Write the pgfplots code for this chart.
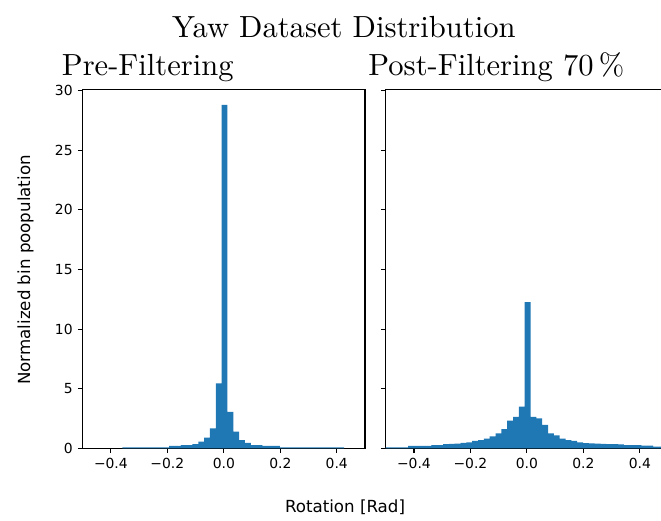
\documentclass[border=0pt]{standalone}
\usepackage{fontspec}
\usepackage{pgfplots}
\pgfplotsset{compat=1.18}
\newfontfamily\dejavu{DejaVu Sans}
\newfontfamily\lmten{lmroman10-regular.otf}
\definecolor{mplblue}{HTML}{1F77B4}

% 1 px of the reference = 0.72pt; origin = lower left corner of the left axis
\pgfplotsset{
  histax/.style={
    scale only axis, width=203.3pt, height=258.5pt,
    xmin=-0.5, xmax=0.5, ymin=0, ymax=30.1,
    axis line style={line width=0.8pt, black},
    tick align=outside, major tick length=3.5pt,
    every tick/.style={black, line width=0.8pt},
    xtick pos=left, ytick pos=left,
    xtick={-0.4,-0.2,0,0.2,0.4},
    xticklabels={{−0.4},{−0.2},{0.0},{0.2},{0.4}},
    ytick={0,5,10,15,20,25,30},
    tick label style={font=\dejavu\fontsize{10}{12}\selectfont, inner sep=0pt, text=black},
    xticklabel style={yshift=-3.5pt},
    yticklabel style={xshift=-3.5pt},
  },
  histbar/.style={ybar interval, fill=mplblue, draw=none},
}

\begin{document}
\begin{tikzpicture}
\path[use as bounding box, clip] (-59.5pt,-51.6pt) rectangle (416.4pt,322.8pt);

\begin{axis}[histax, at={(0pt,0pt)}, anchor=south west,
  yticklabels={0,5,10,15,20,25,30}]
\addplot[histbar] coordinates {
  (-0.3590,0.08) (-0.3384,0.08) (-0.3177,0.08) (-0.2970,0.08)
  (-0.2764,0.08) (-0.2557,0.08) (-0.2351,0.08) (-0.2144,0.08)
  (-0.1937,0.20) (-0.1731,0.20) (-0.1524,0.28) (-0.1318,0.28)
  (-0.1111,0.36) (-0.0904,0.56) (-0.0698,0.89) (-0.0491,1.68)
  (-0.0285,5.45) (-0.0078,28.8) (0.0129,3.05) (0.0335,1.40)
  (0.0542,0.70) (0.0748,0.45) (0.0955,0.28) (0.1162,0.28)
  (0.1368,0.20) (0.1575,0.20) (0.1781,0.20) (0.1988,0.08)
  (0.2195,0.08) (0.2401,0.08) (0.2608,0.08) (0.2814,0.08)
  (0.3021,0.08) (0.3228,0.08) (0.3434,0.08) (0.3641,0.08)
  (0.3847,0.08) (0.4054,0.08) (0.4261,0.08)
};
\end{axis}

\begin{axis}[histax, at={(218.2pt,0pt)}, anchor=south west,
  yticklabels={}]
\addplot[histbar] coordinates {
  (-0.5036,0.08) (-0.4830,0.08) (-0.4623,0.08) (-0.4417,0.08)
  (-0.4210,0.20) (-0.4003,0.20) (-0.3797,0.20) (-0.3590,0.20)
  (-0.3384,0.28) (-0.3177,0.28) (-0.2970,0.36) (-0.2764,0.38)
  (-0.2557,0.40) (-0.2351,0.46) (-0.2144,0.50) (-0.1937,0.62)
  (-0.1731,0.70) (-0.1524,0.81) (-0.1318,1.00) (-0.1111,1.26)
  (-0.0904,1.62) (-0.0698,2.32) (-0.0491,2.63) (-0.0285,3.49)
  (-0.0078,12.25) (0.0129,2.63) (0.0335,2.52) (0.0542,1.96)
  (0.0748,1.26) (0.0955,1.09) (0.1162,0.81) (0.1368,0.70)
  (0.1575,0.62) (0.1781,0.50) (0.1988,0.44) (0.2195,0.42)
  (0.2401,0.40) (0.2608,0.37) (0.2814,0.36) (0.3021,0.35)
  (0.3228,0.33) (0.3434,0.28) (0.3641,0.28) (0.3847,0.27)
  (0.4054,0.22) (0.4261,0.22) (0.4467,0.14) (0.4674,0.14)
  (0.4880,0.12) (0.5087,0.12)
};
\end{axis}

\node[anchor=base, inner sep=0pt, font=\lmten\fontsize{22}{26}\selectfont] at (188.1pt,295.6pt) {Yaw Dataset Distribution};
\node[anchor=base west, inner sep=0pt, font=\lmten\fontsize{22}{26}\selectfont] at (-15.1pt,268.1pt) {Pre-Filtering};
\node[anchor=base west, inner sep=0pt, font=\lmten\fontsize{22}{26}\selectfont] at (205.6pt,268.1pt) {Post-Filtering 70\,\%};
\node[anchor=base, inner sep=0pt, font=\dejavu\fontsize{12}{14}\selectfont] at (188.9pt,-45.9pt) {Rotation [Rad]};
\node[anchor=base, rotate=90, inner sep=0pt, font=\dejavu\fontsize{12}{14}\selectfont] at (-37.9pt,128.4pt) {Normalized bin poopulation};
\end{tikzpicture}
\end{document}
